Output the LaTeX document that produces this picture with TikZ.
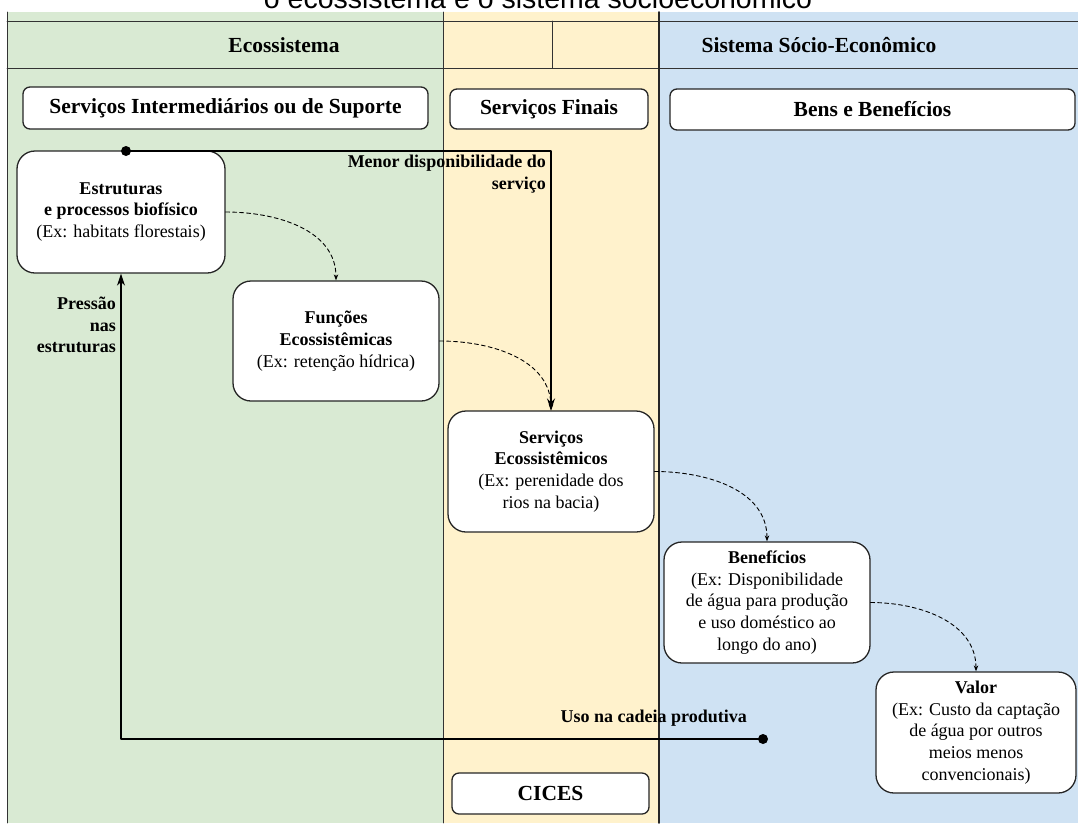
\documentclass[tikz,border=0pt]{standalone}
\usepackage{fontspec}
\setmainfont{Liberation Serif}
\newfontfamily\titulofont{Liberation Sans}
\usetikzlibrary{arrows.meta}
\definecolor{verde}{HTML}{D9EAD3}
\definecolor{amarelo}{HTML}{FFF2CC}
\definecolor{azul}{HTML}{CFE2F3}
\begin{document}
\begin{tikzpicture}[x=1pt, y=-1pt, line join=round, line cap=round,
		caixa/.style={draw=black!85, line width=1.3pt, fill=white, rounded corners=18pt,
			align=center, inner sep=2pt, font=\fontsize{18}{21.7}\selectfont},
		titulo/.style={draw=black!85, line width=1.3pt, fill=white, rounded corners=7pt,
			inner sep=0pt, font=\fontsize{21.5}{25}\selectfont\bfseries},
		tracejado/.style={line width=0.9pt, dash pattern=on 4pt off 3pt,
			-{Stealth[length=6pt,width=4.5pt]}},
		forte/.style={line width=1.8pt, -{Stealth[length=12pt,width=8pt]}},
		rotulo/.style={align=right, inner sep=0pt, font=\fontsize{18}{21.7}\selectfont\bfseries}]
	\useasboundingbox (0,0) rectangle (1078,823);
	\clip (0,0) rectangle (1078,823);
	% faixas
	\fill[verde] (7,12) rectangle (443,823);
	\fill[amarelo] (443,12) rectangle (659,823);
	\fill[azul] (659,12) rectangle (1078,823);
	\draw[black!80, line width=0.9pt] (7,21)--(1078,21) (7,68)--(1078,68)
		(7,12)--(7,823) (443,12)--(443,823) (552,21)--(552,68);
	\draw[black!85, line width=1.8pt] (659,12)--(659,823);
	\node[titulo, draw=none, fill=none] (ecos) at (284,45) {Ecossistema};
	\node[titulo, draw=none, fill=none] (socio) at (819,45) {Sistema Sócio-Econômico};
	\node[anchor=base, inner sep=0pt, font=\titulofont\fontsize{28.5}{30}\selectfont] (tit) at (538,8)
		{o ecossistema e o sistema socioeconômico};
	% caixas
	\node[titulo, minimum width=405pt, minimum height=42pt] (inter) at (225.5,108) {Serviços Intermediários ou de Suporte};
	\node[titulo, minimum width=198pt, minimum height=40pt] (finais) at (549,109) {Serviços Finais};
	\node[titulo, minimum width=405pt, minimum height=41pt] (bens) at (872.5,109.5) {Bens e Benefícios};
	\node[titulo, minimum width=197pt, minimum height=41pt] (cices) at (550.5,793.5) {CICES};
	\node[caixa, minimum width=208pt, minimum height=122pt] (estr) at (121,212)
		{\textbf{Estruturas}\\\textbf{e processos biofísico}\\(Ex: habitats florestais)};
	\node[caixa, minimum width=206pt, minimum height=120pt] (func) at (336,341)
		{\textbf{Funções}\\\textbf{Ecossistêmicas}\\(Ex: retenção hídrica)};
	\node[caixa, minimum width=206pt, minimum height=121pt] (serv) at (551,471.5)
		{\textbf{Serviços}\\\textbf{Ecossistêmicos}\\(Ex: perenidade dos\\rios na bacia)};
	\node[caixa, minimum width=206pt, minimum height=121pt] (bene) at (767,602.5)
		{\textbf{Benefícios}\\(Ex: Disponibilidade\\de água para produção\\e uso doméstico ao\\longo do ano)};
	\node[caixa, minimum width=200pt, minimum height=121pt] (valor) at (976,732.5)
		{\textbf{Valor}\\(Ex: Custo da captação\\de água por outros\\meios menos\\convencionais)};
	% setas tracejadas
	\foreach \a/\b in {estr/func,func/serv,serv/bene,bene/valor}
		\draw[tracejado] (\a.east) to[out=0,in=90] (\b.north);
	% setas fortes
	\path (126,151) coordinate (P) (763,739) coordinate (Q);
	\draw[forte] (P) -| (serv.north);
	\draw[forte] (Q) -| (estr.south);
	\foreach \p in {P,Q}
		\fill (\p) circle (5pt);
	\node[rotulo, anchor=east] (menor) at (546,174) {Menor disponibilidade do\\serviço};
	\node[rotulo, anchor=east] (pressao) at (116,325) {Pressão\\nas\\estruturas};
	\node[rotulo, anchor=east] (uso) at (747,718) {Uso na cadeia produtiva};
\end{tikzpicture}
\end{document}
